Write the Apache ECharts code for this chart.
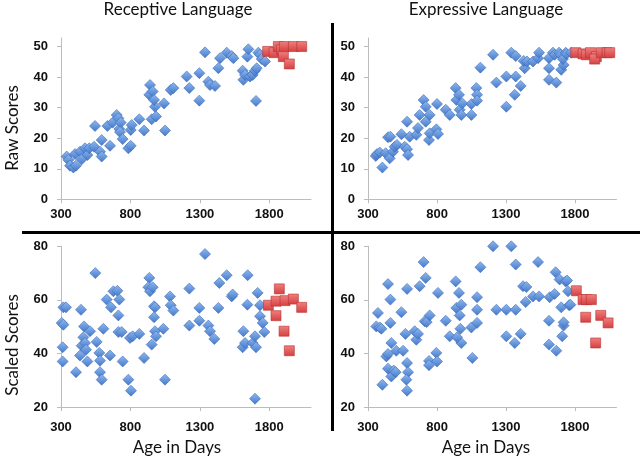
<!DOCTYPE html>
<html><head><meta charset="utf-8">
<script src="https://cdn.jsdelivr.net/npm/echarts@6/dist/echarts.min.js"></script>
<style>html,body{margin:0;padding:0;background:#fff}#c{width:640px;height:458px}</style>
</head><body><div id="c"></div>
<script>
// ---- Data: [age in days, score] ----
const panelTitles = ['Receptive Language', 'Expressive Language'];
const rowTitles = ['Raw Scores', 'Scaled Scores'];
const xTitle = 'Age in Days';
const xTicks = [300, 800, 1300, 1800];
const rawTicks = [0, 10, 20, 30, 40, 50];
const scaledTicks = [20, 40, 60, 80];

const recRawBlue = [[341,14],[353,12.9],[365,11],[389,10.4],[408,11],[401,14.8],[437,15.6],[449,13.1],[473,16.7],[490,14.5],[504,16.7],[545,24],[538,17.2],[581,15.6],[593,14],[593,19.4],[634,24],[653,17.5],[672,25.1],[701,27.6],[713,26.5],[720,23],[730,25.1],[725,22],[744,19.7],[785,16.7],[802,17.5],[802,22.7],[809,24.3],[864,26.2],[898,22.5],[941,37.4],[936,34.2],[953,26.2],[960,35.3],[977,30.3],[970,32.5],[984,27.1],[1042,31.4],[1049,22.5],[1090,35.8],[1109,36.4],[1205,40.2],[1224,36.4],[1296,32.3],[1296,41.3],[1337,48.1],[1361,38.5],[1373,37.4],[1409,37.1],[1433,42.9],[1445,46.2],[1493,48],[1529,46.9],[1541,46.2],[1608,42.1],[1613,39.1],[1625,40.7],[1642,46.7],[1649,49.1],[1661,40.2],[1680,40.7],[1697,42.1],[1709,42.9],[1704,32.2],[1721,48],[1733,47.3],[1745,45.9],[1769,45.1]];
const recRawRed = [[1788,48.4],[1834,48],[1865,50],[1889,48.9],[1908,50],[1901,46.7],[1944,44.3],[1973,50],[2033,50]];

const expRawBlue = [[356,14.2],[365,14.8],[385,15.3],[404,10.4],[428,15.1],[445,20.3],[462,20.5],[457,13.4],[481,15.6],[493,17.2],[510,17.8],[542,21.3],[566,17.2],[583,25.4],[583,16.4],[590,14.5],[602,20.5],[650,21.1],[662,23.3],[674,27.6],[703,32.5],[718,30.3],[718,25.4],[747,27.6],[742,19.4],[747,21.6],[800,31.2],[795,22.9],[807,21.4],[863,29.3],[892,27.6],[935,36.4],[940,32.5],[959,34.2],[964,29.3],[976,27.6],[983,31.4],[1049,27.6],[1049,31.2],[1085,36.4],[1090,34.2],[1090,32.3],[1114,43.1],[1206,47.3],[1230,38.2],[1302,30.3],[1302,40.2],[1338,48],[1370,46.9],[1370,40.2],[1363,34.2],[1406,37.1],[1435,42.9],[1428,45.3],[1452,45.1],[1495,45.1],[1532,46.2],[1539,48],[1611,46.2],[1611,42.9],[1611,39.1],[1640,48],[1652,47.3],[1664,38.2],[1684,48],[1693,47.3],[1700,42.4],[1717,44],[1712,45.9],[1732,48],[1737,47.6],[1771,48]];
const expRawRed = [[1805,48],[1858,47.6],[1882,47.3],[1911,48],[1954,46.7],[1942,45.9],[1990,48],[2032,48],[2051,48]];

const recScBlue = [[305,51.4],[317,50.7],[317,57.2],[336,57.2],[312,42.3],[312,37],[408,33],[444,56.3],[437,39.2],[449,42.9],[466,50.1],[461,46],[473,43.9],[480,41.4],[490,37],[509,48.3],[547,70],[557,44.3],[576,40.2],[581,37.3],[581,33],[593,30.2],[605,49.2],[629,60.1],[660,57.2],[653,39.2],[677,63.2],[706,63.4],[720,60.1],[713,54.2],[713,48],[737,48],[744,37],[785,30.2],[804,26.1],[797,45.8],[816,46.4],[864,47.3],[898,38.3],[936,68.2],[929,64.7],[941,63.2],[960,64.7],[970,57.6],[977,57.2],[953,43.3],[970,53.5],[977,48.3],[984,46.4],[1049,30.2],[1037,49.2],[1085,61.3],[1090,58],[1109,56],[1224,64.2],[1224,50.4],[1296,57],[1296,52.2],[1337,77.1],[1361,50.4],[1373,48.3],[1404,45.4],[1433,57],[1440,66.3],[1493,69.2],[1529,61.3],[1536,62],[1608,42.3],[1613,48.3],[1625,43.9],[1644,69.2],[1642,58.2],[1680,43.9],[1697,46.4],[1704,42.3],[1697,23.1],[1716,62.6],[1733,58],[1733,53.9],[1752,51.4],[1764,48]];
const recScRed = [[1793,58],[1848,59.5],[1872,64.1],[1848,54.1],[1913,59.7],[1906,48.3],[1944,41],[1973,60.3],[2033,57.2]];

const expScBlue = [[360,50.1],[372,55.1],[385,49.7],[397,49.2],[404,28.3],[433,38.9],[445,65.9],[445,39.8],[445,34.3],[462,60.1],[462,51.4],[469,43.9],[469,31.4],[486,33.6],[500,33],[505,41],[542,55.4],[554,41],[571,47.3],[583,64.1],[583,36.4],[590,33],[578,30.2],[583,26.1],[638,48.3],[650,45.1],[662,47.3],[674,65.1],[703,74.1],[718,68.2],[711,52],[725,51.7],[747,54.2],[742,37.2],[742,35.6],[795,40.2],[807,62.6],[800,37],[863,52.2],[892,46.4],[935,66.9],[940,57],[959,62.6],[964,54.2],[969,49.2],[976,58.2],[976,43.9],[945,46],[1049,49.7],[1056,38.3],[1090,51.4],[1090,56.3],[1090,61],[1114,72.2],[1206,80],[1230,56.3],[1302,46.4],[1302,56.3],[1338,80],[1370,73.2],[1370,56.3],[1363,43.9],[1406,47.3],[1423,65.1],[1447,64.8],[1442,59.2],[1495,61.3],[1532,74.1],[1539,61.3],[1611,52.2],[1611,43.3],[1616,61],[1652,62.2],[1659,70.3],[1664,41],[1688,67.6],[1700,57.2],[1707,46.4],[1717,50.4],[1717,51.6],[1732,66.9],[1742,67.2],[1749,63.2],[1757,58],[1766,58.2]];
const expScRed = [[1809,63.4],[1858,60.1],[1877,53.5],[1882,60.1],[1918,60.1],[1949,43.9],[1986,54.2],[2039,51.4]];

// ---- Styles ----
const FONT = 'Lato';
const LABEL_FONT = '"Liberation Sans", Arial, sans-serif';
const axisGray = '#bcbcbc';
const blueStyle = {
  color: {type:'linear',x:0,y:0,x2:0,y2:1,colorStops:[{offset:0,color:'#8fbaf0'},{offset:1,color:'#4477c9'}]},
  borderColor:'#3d6cb8', borderWidth:0.6, opacity:1
};
const redStyle = {
  color: {type:'linear',x:0,y:0,x2:0,y2:1,colorStops:[{offset:0,color:'#f08080'},{offset:1,color:'#d63f3f'}]},
  borderColor:'#b83232', borderWidth:0.6, opacity:1
};

const grids = [
  {left:61, top:38, width:250, height:161.3},
  {left:368, top:38, width:248.5, height:161.3},
  {left:61, top:246.3, width:250, height:160.7},
  {left:368, top:246.3, width:248.5, height:160.7}
];
const plain = v => String(v);

function xAx(i, margin){
  return {gridIndex:i, type:'value', min:300, max:2100,
    axisLine:{show:true, lineStyle:{color:axisGray, width:1}},
    axisTick:{show:true, length:4, lineStyle:{color:axisGray}, customValues:xTicks},
    axisLabel:{customValues:xTicks, formatter:plain, color:'#111', fontFamily:LABEL_FONT, fontWeight:'bold', fontSize:13, margin:margin},
    splitLine:{show:false}};
}
function yAx(i, min, max, ticks){
  return {gridIndex:i, type:'value', min:min, max:max,
    axisLine:{show:true, lineStyle:{color:axisGray, width:1}},
    axisTick:{show:true, length:4, lineStyle:{color:axisGray}, customValues:ticks},
    axisLabel:{customValues:ticks, formatter:plain, color:'#111', fontFamily:LABEL_FONT, fontWeight:'bold', fontSize:13, margin:13},
    splitLine:{show:false}};
}

function ser(i, data, style, symbol, size){
  return {type:'scatter', xAxisIndex:i, yAxisIndex:i, data:data, symbol:symbol, symbolSize:size,
    itemStyle:style, silent:true, animation:false};
}

const txt = (x, y, s, size, rot) => ({type:'text', x:x, y:y, rotation:rot||0,
  style:{text:s, fill:'#111', font: size+'px '+FONT, textAlign:'center', textVerticalAlign:'middle'}});

const option = {
  animation:false,
  grid: grids,
  xAxis: [xAx(0,9), xAx(1,9), xAx(2,14), xAx(3,14)],
  yAxis: [yAx(0,0,52.8,rawTicks), yAx(1,0,52.8,rawTicks), yAx(2,20,80,scaledTicks), yAx(3,20,80,scaledTicks)],
  series: [
    ser(0, recRawBlue, blueStyle, 'diamond', [11,11]),
    ser(0, recRawRed, redStyle, 'rect', [10,10]),
    ser(1, expRawBlue, blueStyle, 'diamond', [11,11]),
    ser(1, expRawRed, redStyle, 'rect', [10,10]),
    ser(2, recScBlue, blueStyle, 'diamond', [11,11]),
    ser(2, recScRed, redStyle, 'rect', [10,10]),
    ser(3, expScBlue, blueStyle, 'diamond', [11,11]),
    ser(3, expScRed, redStyle, 'rect', [10,10])
  ],
  graphic: [
    txt(178, 10, panelTitles[0], 17),
    txt(486, 10, panelTitles[1], 17),
    txt(13, 128, rowTitles[0], 17, Math.PI/2),
    txt(13, 345, rowTitles[1], 17, Math.PI/2),
    txt(177, 448, xTitle, 17),
    txt(486, 448, xTitle, 17),
    {type:'rect', shape:{x:331, y:23, width:3, height:408}, style:{fill:'#000'}},
    {type:'rect', shape:{x:22, y:231, width:618, height:3}, style:{fill:'#000'}}
  ]
};
const chart = echarts.init(document.getElementById('c'), null, {renderer:'canvas'});
chart.setOption(option);
</script></body></html>
